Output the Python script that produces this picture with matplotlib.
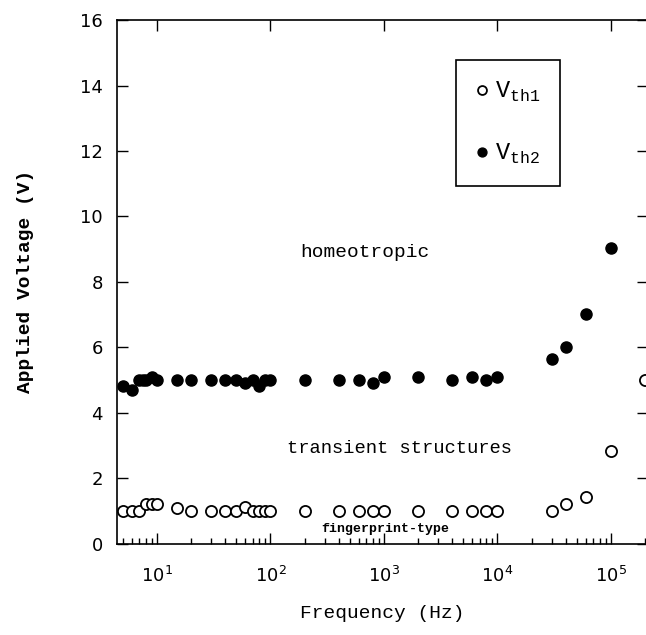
import matplotlib
matplotlib.use("Agg")
import matplotlib.pyplot as plt
from matplotlib.ticker import LogLocator, NullFormatter

plt.rcParams['mathtext.fontset'] = 'custom'
plt.rcParams['mathtext.rm'] = 'Liberation Mono'

# data
freq_th1 = [5, 6, 7, 8, 9, 10, 15, 20, 30, 40, 50, 60, 70, 80, 90, 100,
            200, 400, 600, 800, 1000, 2000, 4000, 6000, 8000, 10000,
            30000, 40000, 60000, 100000, 200000]
v_th1 = [1.0, 1.0, 1.0, 1.2, 1.2, 1.2, 1.1, 1.0, 1.0, 1.0, 1.0, 1.12, 1.0, 1.0, 1.0, 1.0,
         1.0, 1.0, 1.0, 1.0, 1.0, 1.0, 1.0, 1.0, 1.0, 1.0,
         1.0, 1.22, 1.42, 2.83, 5.0]

freq_th2 = [5, 6, 7, 7.5, 8, 9, 10, 15, 20, 30, 40, 50, 60, 70, 80, 90, 100,
            200, 400, 600, 800, 1000, 2000, 4000, 6000, 8000, 10000,
            30000, 40000, 60000, 100000]
v_th2 = [4.82, 4.7, 5.0, 5.0, 5.0, 5.1, 5.0, 5.0, 5.0, 5.0, 5.0, 5.0, 4.92, 5.0, 4.82, 5.0, 5.0,
         5.0, 5.0, 5.0, 4.92, 5.1, 5.1, 5.0, 5.1, 5.0, 5.1,
         5.64, 6.0, 7.02, 9.04]

mono = 'Liberation Mono'

fig = plt.figure(figsize=(6.46, 6.35), dpi=100)
ax = fig.add_axes([0.181, 0.144, 0.822, 0.8244])

ax.plot(freq_th1, v_th1, 'o', mfc='white', mec='black', mew=1.3, ms=8,
        linestyle='none', label=r'$\mathrm{V}_{\mathrm{th1}}$')
ax.plot(freq_th2, v_th2, 'o', mfc='black', mec='black', ms=8,
        linestyle='none', label=r'$\mathrm{V}_{\mathrm{th2}}$')

ax.set_xscale('log')
ax.set_xlim(4.44, 2.12e5)
ax.set_ylim(0, 16)
ax.set_yticks([0, 2, 4, 6, 8, 10, 12, 14, 16])

ax.xaxis.set_major_locator(LogLocator(base=10, numticks=10))
ax.xaxis.set_minor_locator(LogLocator(base=10, subs=range(2, 10), numticks=10))
ax.xaxis.set_minor_formatter(NullFormatter())

ax.tick_params(which='major', direction='in', length=8, width=1, top=True, right=True,
               labelsize=13, pad=10)
ax.tick_params(axis='x', which='major', pad=16)
ax.tick_params(which='minor', direction='in', length=4, width=1, top=False)
for s in ax.spines.values():
    s.set_linewidth(1.2)

ax.set_xlabel('Frequency (Hz)', fontfamily=mono, fontsize=14, labelpad=14)
ax.set_ylabel('Applied Voltage (V)', fontfamily=mono, fontsize=14, fontweight='bold', labelpad=33)

ax.text(681, 8.9, 'homeotropic', fontfamily=mono, fontsize=14, ha='center', va='center')
ax.text(1380, 2.92, 'transient structures', fontfamily=mono, fontsize=13.5, ha='center', va='center')
ax.text(1020, 0.45, 'fingerprint-type', fontfamily=mono, fontsize=9.5, fontweight='bold',
        ha='center', va='center')

leg = ax.legend(loc='upper left', bbox_to_anchor=(0.638, 0.924), borderaxespad=0,
                fancybox=False, edgecolor='black', framealpha=1,
                prop={'family': mono, 'size': 17},
                handlelength=0.5, handletextpad=0.3, labelspacing=1.6, borderpad=0.85,
                markerscale=0.8)
leg.get_frame().set_linewidth(1.2)

plt.savefig('out.png', dpi=100)
